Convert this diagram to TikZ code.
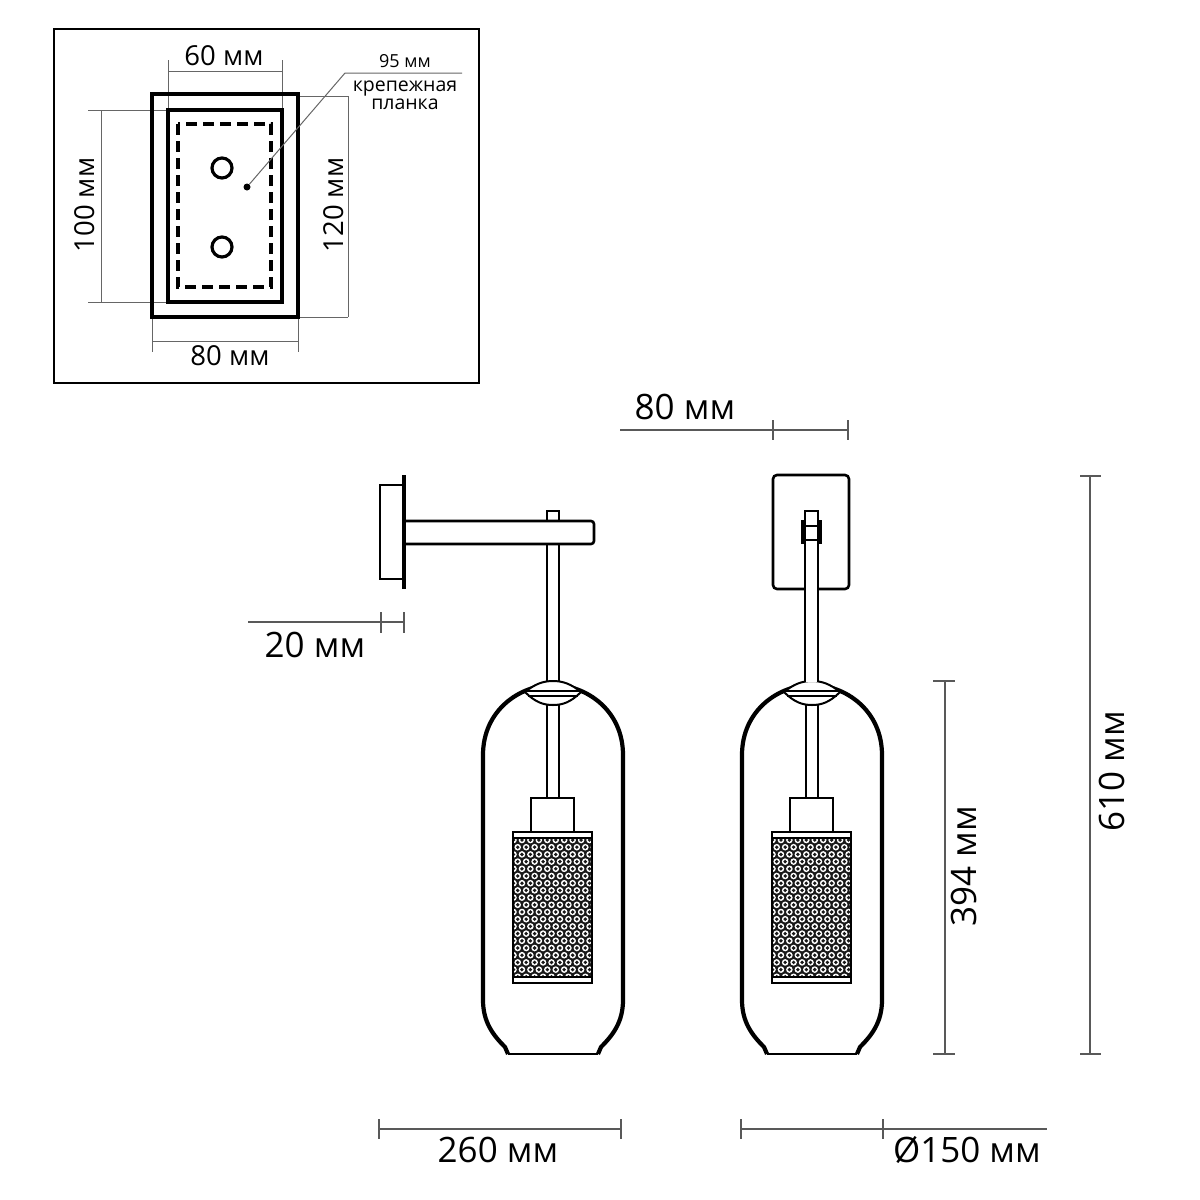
\documentclass[tikz,border=0pt]{standalone}
\usepackage{fontspec}
\setmainfont{Open Sans}
\usepackage{tikz}

\tikzset{
    dimline/.style={draw=black!65, line width=1.1pt},
    insetline/.style={draw=black!60, line width=1pt},
    thinpart/.style={draw=black, line width=2.6pt},
    glasspart/.style={draw=black, line width=4.2pt},
    boldpart/.style={draw=black, line width=3.6pt},
    bigtext/.style={inner sep=0pt, font=\fontsize{35}{35}\selectfont},
    midtext/.style={inner sep=0pt, font=\fontsize{27.5}{27.5}\selectfont},
    smalltext/.style={inner sep=0pt, font=\fontsize{19.5}{19.5}\selectfont}
}

\begin{document}
\begin{tikzpicture}[x=1pt, y=-1pt]
    \useasboundingbox (0,0) rectangle (1200,1200);

    % mounting plate box
    \draw[draw=black, line width=2.6pt] (54,29) rectangle (479,383);
    \draw[insetline] (168,60) -- (168,110);
    \draw[insetline] (282,60) -- (282,110);
    \draw[insetline] (88,110) -- (168,110);
    \draw[insetline] (88,302) -- (168,302);
    \draw[insetline] (298,96) -- (348,96);
    \draw[insetline] (298,317) -- (348,317);
    \draw[insetline] (152,317) -- (152,352);
    \draw[insetline] (298,317) -- (298,352);

    \coordinate (w60a) at (168,71);
    \coordinate (w60b) at (282,71);
    \coordinate (h100a) at (101,110);
    \coordinate (h100b) at (101,302);
    \coordinate (h120a) at (348,96);
    \coordinate (h120b) at (348,317);
    \coordinate (w80a) at (152,341);
    \coordinate (w80b) at (298,341);
    \draw[insetline] (w60a) -- (w60b);
    \draw[insetline] (h100a) -- (h100b);
    \draw[insetline] (h120a) -- (h120b);
    \draw[insetline] (w80a) -- (w80b);

    \draw[boldpart] (152,94) rectangle (298,317);
    \draw[boldpart] (168,110) rectangle (282,302);
    \draw[draw=black, line width=3.2pt, dash pattern=on 11pt off 6pt] (178,124) rectangle (271,287);
    \node (holetop) [circle, draw, line width=3.2pt, minimum size=20pt, inner sep=0pt] at (222,168) {};
    \node (holebottom) [circle, draw, line width=3.2pt, minimum size=20pt, inner sep=0pt] at (222,247) {};

    \node (platedot) [circle, fill=black, minimum size=7pt, inner sep=0pt] at (247,187) {};
    \coordinate (leaderbend) at (345,73);
    \coordinate (leaderend) at (462,73);
    \draw[insetline] (platedot) -- (leaderbend) -- (leaderend);

    \node (t60) [midtext] at (224,56) {60 мм};
    \node (t100) [midtext, rotate=90] at (85,205) {100 мм};
    \node (t120) [midtext, rotate=90] at (334,205) {120 мм};
    \node (t80) [midtext] at (230,356) {80 мм};
    \node (t95) [smalltext, font=\fontsize{18}{18}\selectfont] at (405,61) {95 мм};
    \node (tkrep) [smalltext] at (405,88.5) {крепежная};
    \node (tplank) [smalltext] at (405,104) {планка};

    % the two lamps
    \foreach \lampx in {0,259}
    {
        \begin{scope}[xshift=\lampx pt]
            \draw[thinpart] (547,705) -- (547,798);
            \draw[thinpart] (559,705) -- (559,798);
            \draw[glasspart, line join=round] (508,1054) -- (505,1047)
                .. controls (493,1035) and (483,1022) .. (483,1000)
                -- (483,755)
                .. controls (483,710) and (520,685) .. (553,685)
                .. controls (586,685) and (623,710) .. (623,755)
                -- (623,1000)
                .. controls (623,1022) and (613,1035) .. (601,1047)
                -- (598,1054);
            \draw[thinpart] (508,1054) -- (598,1054);
            \draw[thinpart, fill=white, line width=2pt] (525,692)
                .. controls (535,684) and (543,681) .. (553,681)
                .. controls (563,681) and (571,684) .. (581,692)
                .. controls (571,702) and (563,705) .. (553,705)
                .. controls (543,705) and (535,702) .. (525,692) -- cycle;
            \draw[draw=black, line width=2pt] (526,691) -- (580,691);
            \draw[draw=black, line width=2pt] (528,695.5) -- (578,695.5);

            \draw[thinpart, fill=white] (531,832) -- (531,798) -- (574,798) -- (574,832);

            % perforated shade
            \begin{scope}
                \clip (513,838) rectangle (592,977);
                \fill[black!90] (513,838) rectangle (592,977);
                \foreach \row in {0,...,19}
                {
                    \foreach \col in {0,...,10}
                    {
                        \pgfmathsetmacro{\holex}{513.5 + 8.45*\col + 4.22*mod(\row,2)}
                        \pgfmathsetmacro{\holey}{840 + 7.2*\row}
                        \fill[white] (\holex,\holey) circle (3.3pt);
                        \fill[black!90] (\holex,\holey) circle (1.9pt);
                    }
                }
            \end{scope}
            \draw[thinpart] (513,832) rectangle (592,983);
            \draw[draw=black, line width=1.8pt] (513,838) -- (592,838);
            \draw[draw=black, line width=1.8pt] (513,977) -- (592,977);
        \end{scope}
    }

    % side view arm
    \draw[thinpart] (380,485) rectangle (404,579);
    \draw[draw=black, line width=3.6pt] (404,475) -- (404,589);
    \draw[thinpart] (547,544) -- (547,682);
    \draw[thinpart] (559,544) -- (559,682);
    \draw[thinpart] (547,521) -- (547,511) -- (559,511) -- (559,521);
    \draw[thinpart, rounded corners=3pt] (404,521) -- (594,521) -- (594,544) -- (404,544);

    % front view plate
    \draw[thinpart, rounded corners=4pt] (773,475) rectangle (849,589);
    \draw[fill=white, draw=none] (805,540) rectangle (818,682);
    \draw[thinpart] (805,540) -- (805,682);
    \draw[thinpart] (818,540) -- (818,682);
    \draw[thinpart] (805,540) -- (805,511) -- (818,511) -- (818,540) -- cycle;
    \draw[thinpart] (805,526) -- (818,526);
    \draw[draw=black, line width=3.4pt] (803,520) -- (803,544);
    \draw[draw=black, line width=3.4pt] (820,520) -- (820,544);

    % overall dimensions
    \coordinate (d80a) at (620,430);
    \coordinate (d80b) at (848,430);
    \coordinate (d20a) at (248,622);
    \coordinate (d20b) at (404,622);
    \coordinate (d610a) at (1090,476);
    \coordinate (d610b) at (1090,1054);
    \coordinate (d394a) at (945,681);
    \coordinate (d394b) at (945,1054);
    \coordinate (d260a) at (379,1129);
    \coordinate (d260b) at (621,1129);
    \coordinate (d150a) at (741,1129);
    \coordinate (d150b) at (1047,1129);
    \draw[dimline] (d80a) -- (d80b);
    \draw[dimline] (d20a) -- (d20b);
    \draw[dimline] (d610a) -- (d610b);
    \draw[dimline] (d394a) -- (d394b);
    \draw[dimline] (d260a) -- (d260b);
    \draw[dimline] (d150a) -- (d150b);

    \foreach \tickx in {773,848}
        \draw[dimline] (\tickx,420) -- (\tickx,440);
    \foreach \tickx in {381,404}
        \draw[dimline] (\tickx,612) -- (\tickx,633);
    \foreach \ticky in {476,1054}
        \draw[dimline] (1080,\ticky) -- (1101,\ticky);
    \foreach \ticky in {681,1054}
        \draw[dimline] (933,\ticky) -- (955,\ticky);
    \foreach \tickx in {379,621,741,883}
        \draw[dimline] (\tickx,1119) -- (\tickx,1139);

    \node (lab80) [bigtext] at (685,407) {80 мм};
    \node (lab20) [bigtext] at (315,645) {20 мм};
    \node (lab610) [bigtext, rotate=90] at (1112,771) {610 мм};
    \node (lab394) [bigtext, rotate=90] at (964,866) {394 мм};
    \node (lab260) [bigtext] at (498,1150) {260 мм};
    \node (lab150) [bigtext] at (967,1150) {Ø150 мм};
\end{tikzpicture}
\end{document}
